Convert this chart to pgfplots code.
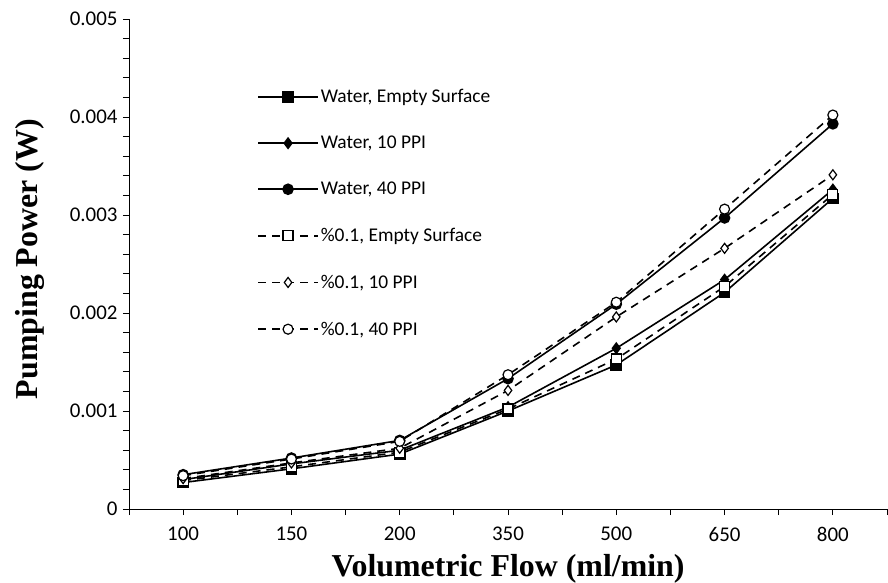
\documentclass[border=0pt]{standalone}
\usepackage{fontspec}
\setmainfont{Carlito}
\newfontfamily\titlefont{Liberation Serif}
\usepackage{pgfplots}
\pgfplotsset{compat=1.18}

% Pumping power against volumetric flow, six configurations
\pgfplotstableread{
x  wE       w10      w40      nE       n10      n40
0  0.00027  0.00030  0.00035  0.00029  0.00031  0.00034
1  0.00041  0.00046  0.00052  0.00043  0.00047  0.00051
2  0.00056  0.00060  0.00070  0.00058  0.00062  0.00069
3  0.00100  0.00104  0.00133  0.00102  0.00121  0.00137
4  0.00147  0.00164  0.00209  0.00153  0.00196  0.00211
5  0.00221  0.00234  0.00297  0.00227  0.00266  0.00306
6  0.00317  0.00326  0.00393  0.00321  0.00341  0.00402
}\pumpdata

\begin{document}
\begin{tikzpicture}
\path[use as bounding box] (0,0) rectangle (888bp,583bp);
\begin{axis}[
  at={(129bp,74bp)}, anchor=south west,
  scale only axis, width=758bp, height=490bp,
  xmin=-0.5, xmax=6.5, ymin=0, ymax=0.005,
  axis x line*=bottom, axis y line*=left,
  axis line style={-, line width=1bp, black},
  xtick={0,...,6},
  xticklabels={100,150,200,350,500,650,800},
  minor xtick={-0.5,0.5,1.5,2.5,3.5,4.5,5.5,6.5},
  ytick={0,0.001,0.002,0.003,0.004,0.005},
  yticklabels={0,0.001,0.002,0.003,0.004,0.005},
  minor y tick num=4,
  scaled y ticks=false,
  tick align=outside,
  major tick length=6bp, minor tick length=6bp,
  every tick/.style={black, line width=0.8bp},
  ticklabel style={font=\fontsize{21}{22}\selectfont},
  xticklabel style={yshift=-11bp, inner sep=1bp},
  yticklabel style={xshift=-2bp},
  xlabel={Volumetric Flow (ml/min)},
  ylabel={Pumping Power (W)},
  label style={font=\titlefont\bfseries\fontsize{32}{34}\selectfont},
  xlabel style={at={(axis description cs:0.5,0)}, anchor=base,
    yshift=-67bp, inner sep=0pt},
  ylabel style={at={(axis description cs:-0.131,0.51)}, anchor=center},
  clip=false,
  every axis plot/.append style={black, line width=1.6bp},
  legend style={
    at={(axis description cs:0.165,0.865)}, anchor=north west,
    draw=none, fill=none,
    font=\fontsize{19.5}{20}\selectfont,
    row sep=28bp,
    /tikz/every even column/.append style={column sep=4bp},
  },
  legend cell align=left,
  legend image code/.code={
    \draw[mark repeat=2, mark phase=2]
      plot coordinates {(0bp,0bp) (30bp,0bp) (60bp,0bp)};
  },
]
\addplot[solid, mark=square*, mark size=5bp, mark options={solid, fill=black}]
  table[x=x, y=wE] {\pumpdata};
\addlegendentry{Water, Empty Surface}
\addplot[solid, mark=diamond*, mark size=5bp, mark options={solid, fill=black}]
  table[x=x, y=w10] {\pumpdata};
\addlegendentry{Water, 10 PPI}
\addplot[solid, mark=*, mark size=5bp, mark options={solid, fill=black}]
  table[x=x, y=w40] {\pumpdata};
\addlegendentry{Water, 40 PPI}
\addplot[dash pattern=on 8bp off 6bp, mark=square*, mark size=5bp,
  mark options={solid, fill=white, line width=1.2bp}]
  table[x=x, y=nE] {\pumpdata};
\addlegendentry{\%0.1, Empty Surface}
\addplot[dash pattern=on 8bp off 6bp, mark=diamond*, mark size=5bp,
  mark options={solid, fill=white, line width=1.2bp}]
  table[x=x, y=n10] {\pumpdata};
\addlegendentry{\%0.1, 10 PPI}
\addplot[dash pattern=on 8bp off 6bp, mark=*, mark size=5bp,
  mark options={solid, fill=white, line width=1.2bp}]
  table[x=x, y=n40] {\pumpdata};
\addlegendentry{\%0.1, 40 PPI}
\end{axis}
\end{tikzpicture}
\end{document}
